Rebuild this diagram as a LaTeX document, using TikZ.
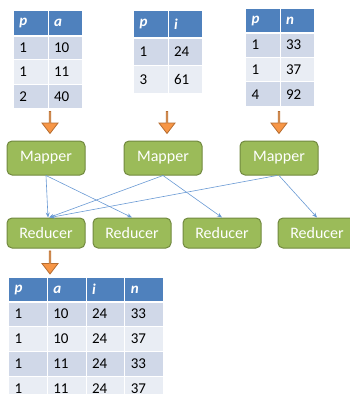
\documentclass[tikz,border=0pt]{standalone}
\usepackage{fontspec}
\setmainfont{Carlito}
\usetikzlibrary{shapes.arrows,arrows.meta}
\definecolor{hdblue}{HTML}{4F81BD}
\definecolor{rowdark}{HTML}{D0D8E8}
\definecolor{rowlight}{HTML}{E9EDF4}
\definecolor{mgreen}{HTML}{9BBB59}
\definecolor{mborder}{HTML}{71893F}
\definecolor{orfill}{HTML}{F79646}
\definecolor{orline}{HTML}{B66D31}
\definecolor{linkblue}{HTML}{6A9AD4}

\begin{document}
\begin{tikzpicture}[x=1pt, y=-1pt]
\tikzstyle{cell} = [draw=white, line width=1pt, anchor=north west, inner xsep=6pt, inner ysep=0pt, text width=22.5pt, align=left, font=\fontsize{15}{17}\selectfont]
\tikzstyle{head} = [cell, fill=hdblue, text=white, font=\fontsize{15}{17}\selectfont\bfseries\itshape]
\tikzstyle{job} = [rounded corners=5pt, fill=mgreen, draw=mborder, line width=1pt, text=white, minimum width=78pt, font=\fontsize{16}{18}\selectfont]
\tikzstyle{bigarrow} = [single arrow, rotate=-90, fill=orfill, draw=orline, line width=0.8pt, minimum width=16pt, single arrow head extend=4pt, single arrow tip angle=75, inner sep=0pt]
\tikzstyle{link} = [draw=linkblue, line width=0.6pt, -{Stealth[length=5pt, width=4pt]}]
\useasboundingbox (0,0) rectangle (349,394);

% input tables
\node[head, minimum height=25pt] (ta-h0) at (13,10) {p};
\node[head, minimum height=25pt] (ta-h1) at (47.5,10) {a};
\foreach \u/\v/\c [count=\r from 0] in {1/10/rowdark, 1/11/rowlight, 2/40/rowdark} {
  \node[cell, fill=\c, minimum height=24.3pt] (ta-\r0) at (13,35+24.3*\r) {\u};
  \node[cell, fill=\c, minimum height=24.3pt] (ta-\r1) at (47.5,35+24.3*\r) {\v};
}
\draw[white, line width=2pt] (ta-h0.south west) -- (ta-h1.south east);

\node[head, minimum height=27pt] (tb-h0) at (133,10) {p};
\node[head, minimum height=27pt] (tb-h1) at (167.5,10) {i};
\foreach \u/\v/\c [count=\r from 0] in {1/24/rowdark, 3/61/rowlight} {
  \node[cell, fill=\c, minimum height=28pt] (tb-\r0) at (133,37+28*\r) {\u};
  \node[cell, fill=\c, minimum height=28pt] (tb-\r1) at (167.5,37+28*\r) {\v};
}
\draw[white, line width=2pt] (tb-h0.south west) -- (tb-h1.south east);

\node[head, minimum height=24pt] (tc-h0) at (245,8) {p};
\node[head, minimum height=24pt] (tc-h1) at (279.5,8) {n};
\foreach \u/\v/\c [count=\r from 0] in {1/33/rowdark, 1/37/rowlight, 4/92/rowdark} {
  \node[cell, fill=\c, minimum height=24.7pt] (tc-\r0) at (245,32+24.7*\r) {\u};
  \node[cell, fill=\c, minimum height=24.7pt] (tc-\r1) at (279.5,32+24.7*\r) {\v};
}
\draw[white, line width=2pt] (tc-h0.south west) -- (tc-h1.south east);

% block arrows
\node[bigarrow, minimum height=22pt] (ar1) at (50,122) {};
\node[bigarrow, minimum height=22pt] (ar2) at (167,122) {};
\node[bigarrow, minimum height=22pt] (ar3) at (279,122) {};
\node[bigarrow, minimum height=23pt] (ar4) at (50,262) {};

% jobs
\node[job, minimum height=34pt] (m1) at (46,158) {Mapper};
\node[job, minimum height=34pt] (m2) at (163,158) {Mapper};
\node[job, minimum height=34pt] (m3) at (279,158) {Mapper};
\node[job, minimum height=30pt] (r1) at (46,233) {Reducer};
\node[job, minimum height=30pt] (r2) at (132,233) {Reducer};
\node[job, minimum height=30pt] (r3) at (222,233) {Reducer};
\node[job, minimum height=30pt] (r4) at (317,233) {Reducer};

\draw[link] (m1.south) -- ([xshift=2pt]r1.north);
\draw[link] (m1.south) -- (r2.north);
\draw[link] (m2.south) -- ([xshift=3pt]r1.north);
\draw[link] (m2.south) -- (r3.north);
\draw[link] ([xshift=-2pt]m3.south) -- ([xshift=4pt]r1.north);
\draw[link] (m3.south) -- (r4.north);

% joined table
\foreach \t [count=\j from 0] in {p,a,i,n}
  \node[head, text width=26.75pt, minimum height=24pt] (td-h\j) at (8+38.75*\j,277) {\t};
\foreach \u/\v/\w/\z/\c [count=\r from 0] in {1/10/24/33/rowdark, 1/10/24/37/rowlight, 1/11/24/33/rowdark, 1/11/24/37/rowlight} {
  \node[cell, fill=\c, text width=26.75pt, minimum height=25pt] (td-\r0) at (8,301+25*\r) {\u};
  \node[cell, fill=\c, text width=26.75pt, minimum height=25pt] (td-\r1) at (46.75,301+25*\r) {\v};
  \node[cell, fill=\c, text width=26.75pt, minimum height=25pt] (td-\r2) at (85.5,301+25*\r) {\w};
  \node[cell, fill=\c, text width=26.75pt, minimum height=25pt] (td-\r3) at (124.25,301+25*\r) {\z};
}
\draw[white, line width=2pt] (td-h0.south west) -- (td-h3.south east);
\end{tikzpicture}
\end{document}
